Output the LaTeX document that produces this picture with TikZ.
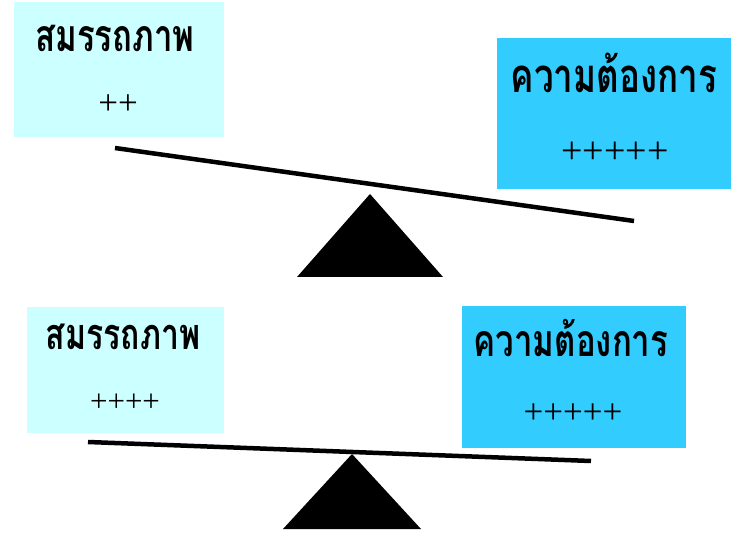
\documentclass[tikz,border=0pt]{standalone}
\usepackage{fontspec}
\usepackage{graphicx}
\setmainfont{Liberation Serif}
\newfontfamily\thaifont[Script=Thai]{Loma}
\definecolor{lightbox}{HTML}{CCFFFF}
\definecolor{darkbox}{HTML}{33CCFF}
\newcommand{\thaitxt}[1]{\scalebox{1}[1.35]{#1}}
\begin{document}
\begin{tikzpicture}[x=1pt,y=-1pt,
  box/.style={draw=none,inner sep=0pt,outer sep=0pt,anchor=north west},
  thai/.style={anchor=base,inner sep=0pt,font=\thaifont\bfseries\fontsize{#1}{40}\selectfont},
  thai/.default=33,
  plus/.style={anchor=base,inner sep=0pt,font=\fontsize{#1}{44}\selectfont},
  plus/.default=35,
  beam/.style={line width=4.5pt},
  fulcrum/.style={fill=black,draw=none}]
\useasboundingbox (0,0) rectangle (731,534);
% top scale
\node[box,fill=lightbox,minimum width=210pt,minimum height=135pt] (tl) at (14,2) {};
\node[box,fill=darkbox,minimum width=234pt,minimum height=151pt] (tr) at (497,38) {};
\node[thai] (tlt) at (115,52) {\thaitxt{สมรรถภาพ}};
\node[plus=35] (tlp) at (118,114.5) {++};
\node[thai=35] (trt) at (614,93) {\thaitxt{ความต้องการ}};
\node[plus=38] (trp) at (615,164) {+++++};
\coordinate (b1a) at (115,148);
\coordinate (b1b) at (634,221);
\draw[beam] (b1a) -- (b1b);
\fill[fulcrum] (370,194) -- (443,277) -- (297,277) -- cycle;
% bottom scale
\node[box,fill=lightbox,minimum width=197pt,minimum height=126pt] (bl) at (27,307) {};
\node[box,fill=darkbox,minimum width=224pt,minimum height=142pt] (br) at (462,306) {};
\node[thai=32] (blt) at (123,350) {\thaitxt{สมรรถภาพ}};
\node[plus=31] (blp) at (125,412) {++++};
\node[thai=33] (brt) at (571,357) {\thaitxt{ความต้องการ}};
\node[plus=35] (brp) at (573,423.5) {+++++};
\coordinate (b2a) at (88,442);
\coordinate (b2b) at (591,461);
\draw[beam] (b2a) -- (b2b);
\fill[fulcrum] (352,454) -- (421,529) -- (283,529) -- cycle;
\end{tikzpicture}
\end{document}
